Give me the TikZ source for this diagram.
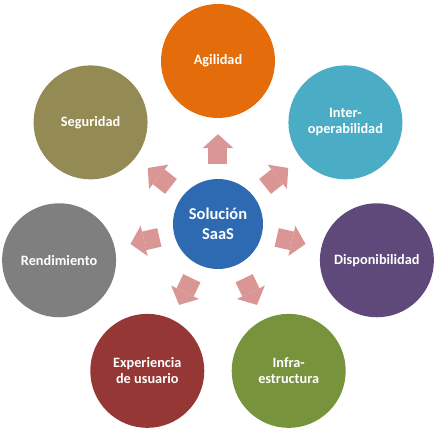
\documentclass[tikz,border=0pt]{standalone}
\usepackage{fontspec}
\setmainfont{Carlito}
\usetikzlibrary{arrows.meta}

\definecolor{solblue}{HTML}{2E6AB1}
\definecolor{pinkarrow}{HTML}{D99694}
\definecolor{agilorange}{HTML}{E46C0A}
\definecolor{interteal}{HTML}{4BACC6}
\definecolor{disppurple}{HTML}{5F497A}
\definecolor{infragreen}{HTML}{77933C}
\definecolor{expred}{HTML}{953735}
\definecolor{rendgray}{HTML}{7F7F7F}
\definecolor{segolive}{HTML}{948A54}

\tikzset{
	petal/.style = {circle, minimum size = 114pt, inner sep = 0pt, text = white,
		align = center, font = \fontsize{14.3}{16}\selectfont\bfseries},
	hub/.style = {circle, minimum size = 90pt, inner sep = 0pt, fill = solblue, text = white,
		align = center, font = \fontsize{16.5}{19.5}\selectfont\bfseries},
	outarrow/.style = {draw = pinkarrow, line width = 19pt,
		-{Triangle[length = 14pt, width = 31pt, line width = 0pt]},
		shorten <= 15pt, shorten >= 16pt}
}

\begin{document}
\begin{tikzpicture}[x = 1pt, y = 1pt]
	\useasboundingbox (-218, -204) rectangle (219, 224);

	\node [hub] (sol) at (0, 0) {Soluci\'on\\SaaS};

	\node [petal, fill = agilorange] (agil) at (90:163) {Agilidad};
	\node [petal, fill = interteal] (inter) at (38.57:163) {Inter-\\operabilidad};
	\node [petal, fill = disppurple] (disp) at (-12.86:163) {Disponibilidad};
	\node [petal, fill = infragreen] (infra) at (-64.29:163) {Infra-\\estructura};
	\node [petal, fill = expred] (exper) at (-115.71:163) {Experiencia\\de usuario};
	\node [petal, fill = rendgray] (rend) at (192.86:163) {Rendimiento};
	\node [petal, fill = segolive] (segur) at (141.43:163) {Seguridad};

	\draw [outarrow] (sol) -- (agil);
	\draw [outarrow] (sol) -- (inter);
	\draw [outarrow] (sol) -- (disp);
	\draw [outarrow] (sol) -- (infra);
	\draw [outarrow] (sol) -- (exper);
	\draw [outarrow] (sol) -- (rend);
	\draw [outarrow] (sol) -- (segur);
\end{tikzpicture}
\end{document}
